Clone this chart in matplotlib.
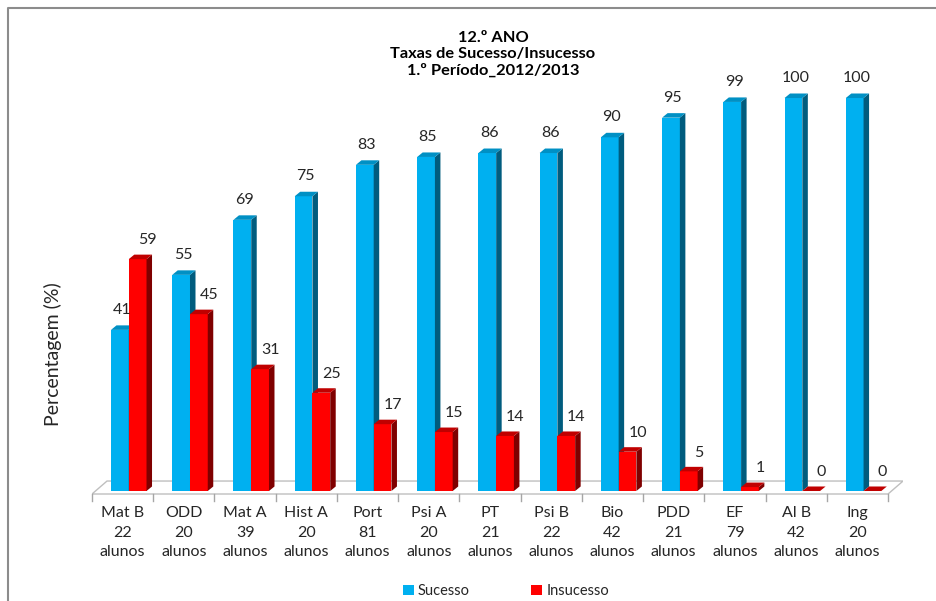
import numpy as np
import matplotlib
matplotlib.use("Agg")
import matplotlib.pyplot as plt
from matplotlib.patches import Polygon, Patch
from matplotlib.lines import Line2D

plt.rcParams['font.family'] = ['Lato', 'DejaVu Sans']

disciplinas = ["Mat B", "ODD", "Mat A", "Hist A", "Port", "Psi A", "PT",
               "Psi B", "Bio", "PDD", "EF", "Al B", "Ing"]
alunos = [22, 20, 39, 20, 81, 20, 21, 22, 42, 21, 79, 42, 20]
sucesso = [41, 55, 69, 75, 83, 85, 86, 86, 90, 95, 99, 100, 100]
insucesso = [59, 45, 31, 25, 17, 15, 14, 14, 10, 5, 1, 0, 0]

azul = ("#00B0F0", "#005C7E", "#0090C4")      # frente, lado, topo
vermelho = ("#FF0000", "#7F0000", "#C00000")

fig = plt.figure(figsize=(9.37, 6.01), dpi=100)
ax = fig.add_axes([0.0982, 0.1634, 0.8659, 0.7389])
ax.set_xlim(-0.5, 12.75)
ax.set_ylim(-3, 110)
ax.axis("off")

# profundidade das barras e do chao (unidades de dados)
bdx, bdy = 0.09, 1.15
fdx, fdy = 0.245, 3.3
larg = 0.29


def barra3d(x0, h, cores):
    frente, lado, topo = cores
    if h > 0:
        ax.add_patch(Polygon([(x0, 0), (x0 + larg, 0), (x0 + larg, h), (x0, h)],
                             closed=True, fc=frente, ec="none", zorder=3))
        ax.add_patch(Polygon([(x0 + larg, 0), (x0 + larg + bdx, bdy),
                              (x0 + larg + bdx, h + bdy), (x0 + larg, h)],
                             closed=True, fc=lado, ec="none", zorder=3))
    ax.add_patch(Polygon([(x0, h), (x0 + larg, h), (x0 + larg + bdx, h + bdy),
                          (x0 + bdx, h + bdy)],
                         closed=True, fc=topo, ec="none", zorder=3))


# chao
n = len(disciplinas)
y0 = -0.76
ax.add_patch(Polygon([(-0.5, y0), (n - 0.5, y0), (n - 0.5 + fdx, y0 + fdy),
                      (-0.5 + fdx, y0 + fdy)], closed=True, fc="white",
                     ec="#BFBFBF", lw=1.0, zorder=1))
for k in range(n + 1):
    ax.plot([k - 0.5, k - 0.5], [y0, y0 - 1.9], color="#A6A6A6", lw=1.0,
            clip_on=False, zorder=1)

for i in range(n):
    barra3d(i - 0.19, sucesso[i], azul)
    barra3d(i + 0.10, insucesso[i], vermelho)
    ax.annotate(str(sucesso[i]), (i - 0.19 + larg / 2 + 0.03, sucesso[i]),
                xytext=(0, 14.5), textcoords="offset points", ha="center",
                va="center", fontsize=11.5, color="#262626")
    ax.annotate(str(insucesso[i]), (i + 0.10 + larg + 0.02, insucesso[i]),
                xytext=(0, 13.5), textcoords="offset points", ha="center",
                va="center", fontsize=11.5, color="#262626")
    ax.text(i, -3.9, "%s\n%d\nalunos" % (disciplinas[i], alunos[i]),
            ha="center", va="top", fontsize=11.5, linespacing=1.5,
            color="#262626")

fig.text(493 / 937, 1 - 54 / 601,
         "12.º ANO\nTaxas de Sucesso/Insucesso\n1.º Período_2012/2013",
         ha="center", va="center", fontsize=11.8, fontweight="bold",
         linespacing=1.2, color="black")
fig.text(53 / 937, 1 - 354 / 601, "Percentagem (%)", rotation=90,
         ha="center", va="center", fontsize=14, color="#262626")

handles = [Patch(fc=azul[0], ec="none"), Patch(fc=vermelho[0], ec="none")]
fig.legend(handles, ["Sucesso", "Insucesso"], loc="center",
           bbox_to_anchor=(506 / 937, 10 / 601), ncol=2, frameon=False,
           fontsize=10.5, handlelength=0.75, handleheight=0.75,
           handletextpad=0.3, columnspacing=4.2, labelcolor="#262626")

# moldura
fig.add_artist(Line2D([8 / 937, 8 / 937, 1], [0, 1 - 8 / 601, 1 - 8 / 601],
                      transform=fig.transFigure, color="#8C8C8C", lw=1.5))

fig.savefig("out.png", dpi=100)
